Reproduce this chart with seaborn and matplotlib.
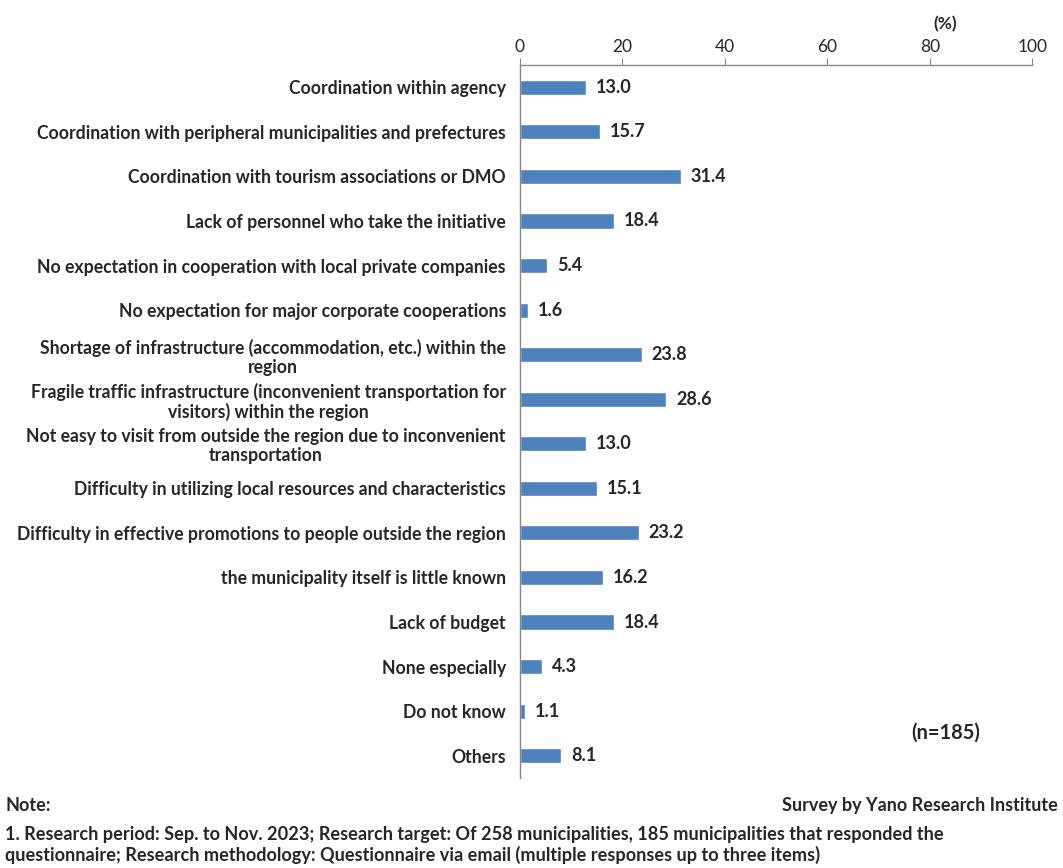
import matplotlib
matplotlib.use("Agg")
import matplotlib.pyplot as plt
import seaborn as sns
import pandas as pd
from matplotlib.ticker import FixedLocator

sns.set_style("white")
plt.rcParams["font.family"] = ["Lato", "DejaVu Sans"]

# -------- data --------
categories = [
    "Coordination within agency",
    "Coordination with peripheral municipalities and prefectures",
    "Coordination with tourism associations or DMO",
    "Lack of personnel who take the initiative",
    "No expectation in cooperation with local private companies",
    "No expectation for major corporate cooperations",
    "Shortage of infrastructure (accommodation, etc.) within the\nregion",
    "Fragile traffic infrastructure (inconvenient transportation for\nvisitors) within the region",
    "Not easy to visit from outside the region due to inconvenient\ntransportation",
    "Difficulty in utilizing local resources and characteristics",
    "Difficulty in effective promotions to people outside the region",
    "the municipality itself is little known",
    "Lack of budget",
    "None especially",
    "Do not know",
    "Others",
]
values = [13.0, 15.7, 31.4, 18.4, 5.4, 1.6, 23.8, 28.6, 13.0, 15.1, 23.2, 16.2, 18.4, 4.3, 1.1, 8.1]
x_ticks = [0, 20, 40, 60, 80, 100]

BAR_COLOR = "#4F81BD"
AXIS_COLOR = "#868686"

df = pd.DataFrame({"item": categories, "pct": values})

fig = plt.figure(figsize=(10.63, 8.68), dpi=100)
ax = fig.add_axes([0.489, 0.1037, 0.482, 0.8214])

sns.barplot(data=df, x="pct", y="item", color=BAR_COLOR, width=0.34,
            saturation=1, ax=ax)

ax.set_xlim(0, 100)
ax.set_ylim(len(categories) - 0.5, -0.5)
ax.set_xlabel("")
ax.set_ylabel("")

# top axis
ax.xaxis.tick_top()
ax.set_xticks(x_ticks)
ax.tick_params(axis="x", direction="out", length=5, color=AXIS_COLOR,
               labelsize=12.5, pad=2)
for sp in ["right", "bottom"]:
    ax.spines[sp].set_visible(False)
for sp in ["top", "left"]:
    ax.spines[sp].set_color(AXIS_COLOR)
    ax.spines[sp].set_linewidth(1.0)

# left axis: tick marks between categories
ax.yaxis.set_minor_locator(FixedLocator([i - 0.5 for i in range(len(categories) + 1)]))
ax.tick_params(axis="y", which="major", length=0, pad=10, labelsize=12.7)
ax.tick_params(axis="y", which="minor", length=5, color=AXIS_COLOR, direction="out")
for lbl in ax.get_yticklabels():
    lbl.set_fontweight("bold")
    lbl.set_multialignment("center")
    lbl.set_linespacing(1.15)

# value labels
for i, v in enumerate(values):
    ax.annotate(f"{v:.1f}", xy=(v, i), xytext=(7, 0), textcoords="offset points",
                va="center", ha="left", fontsize=13, fontweight="bold")

fig.text(0.889, 0.972, "(%)", fontsize=12.5, fontweight="bold", ha="center", va="center")
fig.text(0.89, 0.1555, "(n=185)", fontsize=14.5, fontweight="bold", ha="center", va="center")

fig.text(0.005, 0.072, "Note:", fontsize=13, fontweight="bold", ha="left", va="center")
fig.text(0.995, 0.072, "Survey by Yano Research Institute", fontsize=13,
         fontweight="bold", ha="right", va="center")
fig.text(0.005, 0.005,
         "1. Research period: Sep. to Nov. 2023; Research target: Of 258 municipalities, 185 municipalities that responded the\n"
         "questionnaire; Research methodology: Questionnaire via email (multiple responses up to three items)",
         fontsize=13.1, fontweight="bold", ha="left", va="bottom", linespacing=1.2)

fig.savefig("out.png", dpi=100)
